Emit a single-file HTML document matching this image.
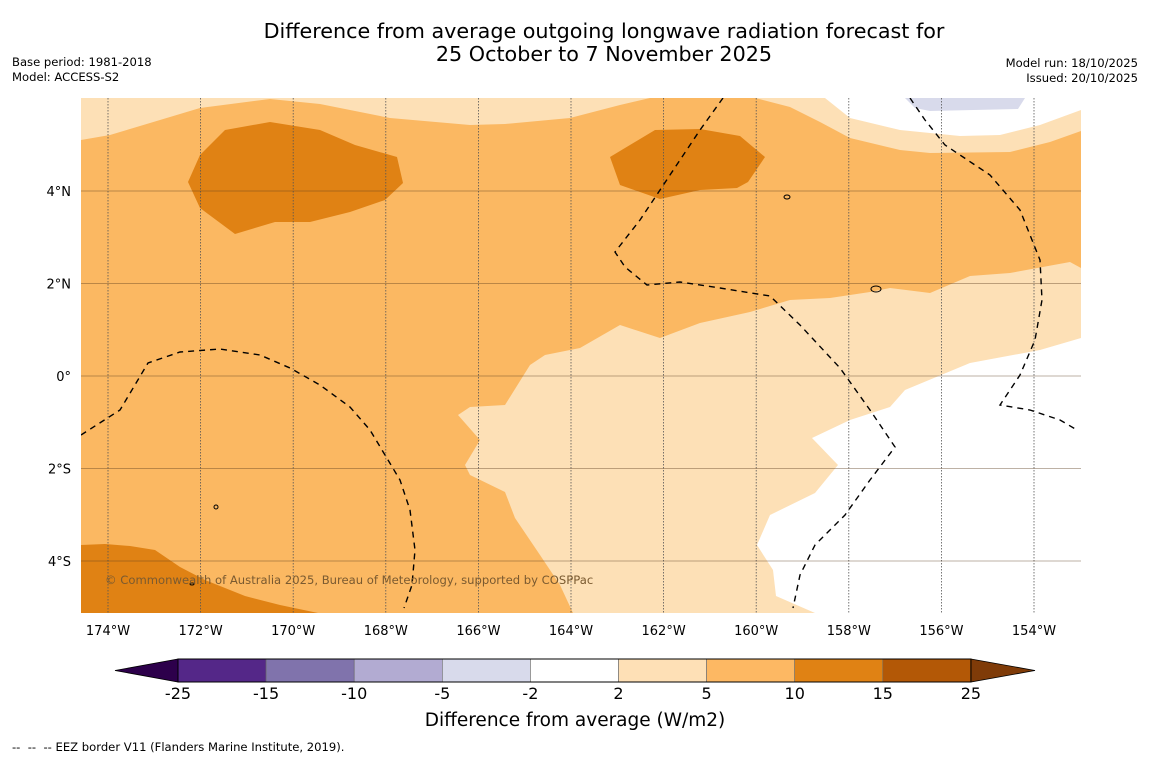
<!DOCTYPE html>
<html><head><meta charset="utf-8"><style>
html,body{margin:0;padding:0;background:#fff;}
svg{display:block;font-family:"DejaVu Sans","Liberation Sans",sans-serif;}
</style></head><body>
<svg id="chart" width="1150" height="758" viewBox="0 0 1150 758">
<rect width="1150" height="758" fill="#fff"/>
<text x="604" y="38" font-size="20.7" text-anchor="middle">Difference from average outgoing longwave radiation forecast for</text>
<text x="604" y="61" font-size="20.7" text-anchor="middle">25 October to 7 November 2025</text>
<text x="12" y="66" font-size="11.6">Base period: 1981-2018</text>
<text x="12" y="81" font-size="11.6">Model: ACCESS-S2</text>
<text x="1138" y="67" font-size="11.6" text-anchor="end">Model run: 18/10/2025</text>
<text x="1138" y="82" font-size="11.6" text-anchor="end">Issued: 20/10/2025</text>
<defs><clipPath id="mapclip"><rect x="81" y="98" width="1000" height="515"/></clipPath></defs>
<g clip-path="url(#mapclip)">
<rect x="81" y="98" width="1000" height="515" fill="#fbb862"/>
<polygon fill="#fde0b6" points="81,98 81,140 110,135 160,120 200,108 270,99 320,104 390,118 470,125 505,124 570,118 620,105 650,98"/>
<polygon fill="#fde0b6" points="755,98 790,107 820,122 850,138 900,150 930,153 1010,152 1050,142 1081,131 1081,98"/>
<polygon fill="#ffffff" points="825,98 850,118 900,130 960,136 1000,135 1040,125 1081,110 1081,98"/>
<polygon fill="#d8daeb" points="905,98 915,108 930,111 1018,109 1025,98"/>
<polygon fill="#fde0b6" points="573,613 560,585 540,555 515,518 505,492 470,475 465,465 480,440 458,415 470,407 505,405 530,365 545,355 580,348 620,325 660,338 700,323 750,312 790,300 830,298 870,292 890,288 930,293 970,276 1010,273 1070,262 1081,268 1081,613"/>
<polygon fill="#ffffff" points="1081,338 1040,350 970,363 905,390 890,407 850,420 812,438 838,465 815,493 770,515 757,545 773,570 776,596 815,613 1081,613"/>
<polygon fill="#e08214" points="200,155 225,130 270,122 320,130 355,145 397,157 403,183 385,200 350,212 310,222 275,222 235,234 200,208 188,182"/>
<polygon fill="#e08214" points="610,157 655,130 700,129 740,136 765,157 748,182 737,188 700,190 660,199 620,185"/>
<polygon fill="#e08214" points="81,545 105,544 130,546 155,550 180,567 205,580 245,596 280,605 318,613 81,613"/>
<g id="grid"></g>
<g fill="none" stroke="#000" stroke-width="1.4" stroke-dasharray="6,5">
<polyline points="723,98 700,130 660,190 640,220 615,252 625,267 647,285 680,282 720,288 770,296 800,325 840,368 870,410 895,447 870,480 845,515 815,545 800,575 793,608"/>
<polyline points="910,98 925,120 945,145 990,175 1020,210 1040,260 1042,300 1035,340 1020,375 1000,405 1030,410 1060,420 1077,430"/>
<polyline points="81,435 120,410 148,363 180,352 220,349 260,355 290,368 320,385 350,407 370,430 385,455 400,480 410,510 415,550 412,585 404,608"/>
</g>
<g fill="none" stroke="#000" stroke-width="1">
<ellipse cx="787" cy="197" rx="3" ry="2"/><ellipse cx="876" cy="289" rx="5" ry="3"/><ellipse cx="216" cy="507" rx="2" ry="2"/><ellipse cx="192" cy="584" rx="2" ry="1"/>
</g>
<text x="105" y="584" font-size="11.6" fill="#7a5a30">© Commonwealth of Australia 2025, Bureau of Meteorology, supported by COSPPac</text>
</g>
<g id="ticks" font-size="13"></g>
<g id="cbar"></g>
<text x="575" y="726" font-size="18.5" text-anchor="middle">Difference from average (W/m2)</text>
<text x="12" y="751" font-size="11.6" xml:space="preserve" style="white-space:pre">--  --  -- EEZ border V11 (Flanders Marine Institute, 2019).</text>
</svg>
<script>
const lonTicks=[-174,-172,-170,-168,-166,-164,-162,-160,-158,-156,-154];
const latTicks=[4,2,0,-2,-4];
const levels=[-25,-15,-10,-5,-2,2,5,10,15,25];
const colors=['#542788','#8073ac','#b2abd2','#d8daeb','#ffffff','#fee0b6','#fdb863','#e08214','#b35806'];
const NS='http://www.w3.org/2000/svg';
const xLon=l=>108+(l+174)*46.3;
const yLat=l=>376-l*46.25;
const grid=document.getElementById('grid'),ticks=document.getElementById('ticks'),cbar=document.getElementById('cbar');
function mk(t,a,p){const e=document.createElementNS(NS,t);for(const k in a)e.setAttribute(k,a[k]);p.appendChild(e);return e;}
lonTicks.forEach(l=>{const x=xLon(l);
 const g=mk('line',{x1:x,x2:x,y1:98,y2:613,stroke:'#555','stroke-width':0.8,'stroke-dasharray':'1.5,1.5'},grid);
 
 
 const t=mk('text',{x:x,y:635,'text-anchor':'middle'},ticks);t.textContent=Math.abs(l)+'°W';
 
 });
latTicks.forEach(l=>{const y=yLat(l);
 const g=mk('line',{x1:81,x2:1081,y1:y,y2:y,stroke:'rgba(90,60,30,0.4)','stroke-width':1},grid);
 
 
 const t=mk('text',{x:71,y:y+5,'text-anchor':'end'},ticks);t.textContent=(l===0?'0°':Math.abs(l)+'°'+(l>0?'N':'S'));
 
 });
const cx0=178,cw=88.1,cy=659,ch=23;
colors.forEach((c,i)=>{const r=mk('rect',{x:cx0+i*cw,y:cy,width:cw,height:ch,fill:c,stroke:'#666','stroke-width':0.6},cbar);
 
 });
levels.forEach((v,i)=>{const t=mk('text',{x:cx0+i*cw,y:699,'text-anchor':'middle','font-size':16},cbar);t.textContent=v;
 
 });
const xe=cx0+colors.length*cw;
const lt=mk('polygon',{points:`${cx0},${cy} 115,${cy+ch/2} ${cx0},${cy+ch}`,fill:'#2d004b',stroke:'#000','stroke-width':0.8},cbar);


const rt=mk('polygon',{points:`${xe},${cy} 1035,${cy+ch/2} ${xe},${cy+ch}`,fill:'#7f3b08',stroke:'#000','stroke-width':0.8},cbar);


mk('rect',{x:cx0,y:cy,width:xe-cx0,height:ch,fill:'none',stroke:'#000','stroke-width':1},cbar);
</script>
</body></html>
